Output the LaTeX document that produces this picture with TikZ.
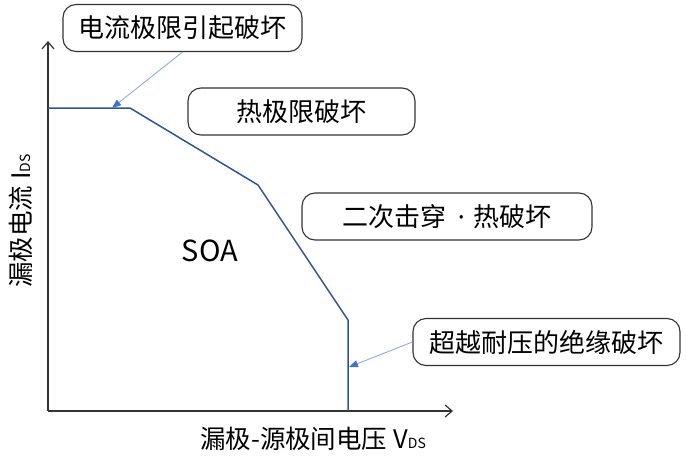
\documentclass[tikz,border=0pt]{standalone}
\usepackage{fontspec}
\setmainfont{Noto Sans CJK SC}
\newfontfamily\latinfont{Noto Sans}
\usetikzlibrary{arrows.meta}
\definecolor{curveblue}{HTML}{2F5597}
\definecolor{calloutblue}{HTML}{8FAADC}
\definecolor{tipblue}{HTML}{4472C4}
\definecolor{boxgray}{HTML}{333333}
\tikzset{
  axisline/.style={draw=boxgray, line width=1.4pt, -{Straight Barb[length=7pt,width=12pt,line width=1.2pt]}},
  soacurve/.style={draw=curveblue, line width=1.5pt, line join=miter},
  labelbox/.style={draw=boxgray, line width=1.1pt, rounded corners=13pt, fill=white,
    inner sep=0pt, minimum height=47pt, font=\fontsize{26}{26}\selectfont},
  callout/.style={draw=calloutblue, line width=0.9pt, -{Triangle[length=9pt,width=7pt,color=tipblue]}},
  axislabel/.style={font=\fontsize{25.5}{26}\selectfont, inner sep=0pt}
}
\newcommand{\smallsub}[1]{{\fontsize{14}{14}\selectfont #1}}
\begin{document}
\begin{tikzpicture}[x=1pt,y=-1pt]
  \useasboundingbox (0,0) rectangle (686,458);
  % axes
  \coordinate (O) at (48,411);
  \coordinate (ytop) at (48,41);
  \coordinate (xend) at (453,411);
  \draw[axisline] (O) -- (ytop);
  \draw[axisline] (O) -- (xend);
  % SOA boundary
  \coordinate (c0) at (48,108);
  \coordinate (c1) at (130,108);
  \coordinate (c2) at (258,185);
  \coordinate (c3) at (348,320);
  \coordinate (c4) at (348,411);
  \draw[soacurve] (c0) -- (c1) -- (c2) -- (c3) -- (c4);
  % labels
  \node[labelbox, minimum width=239pt] (b1) at (182.5,28) {电流极限引起破坏};
  \node[labelbox, minimum width=227pt] (b2) at (301.5,111.5) {热极限破坏};
  \node[labelbox, minimum width=290pt] (b3) at (447,216.5) {二次击穿{\latinfont\hspace{0.45em}·\hspace{0.35em}}热破坏};
  \node[labelbox, minimum width=267pt] (b4) at (546.5,342) {超越耐压的绝缘破坏};
  % callouts
  \coordinate (t1) at (112,108);
  \coordinate (t4) at (349,367);
  \draw[callout] (b1.south) -- (t1);
  \draw[callout] (b4.west) -- (t4);
  % texts
  \node[font=\fontsize{29}{29}\selectfont, inner sep=0pt] (soa) at (210,251) {SOA};
  \node[axislabel, rotate=90] (ylab) at (21,221) {漏极电流 I\smallsub{DS}};
  \node[axislabel] (xlab) at (313,439) {漏极-源极间电压 V\smallsub{DS}};
\end{tikzpicture}
\end{document}
